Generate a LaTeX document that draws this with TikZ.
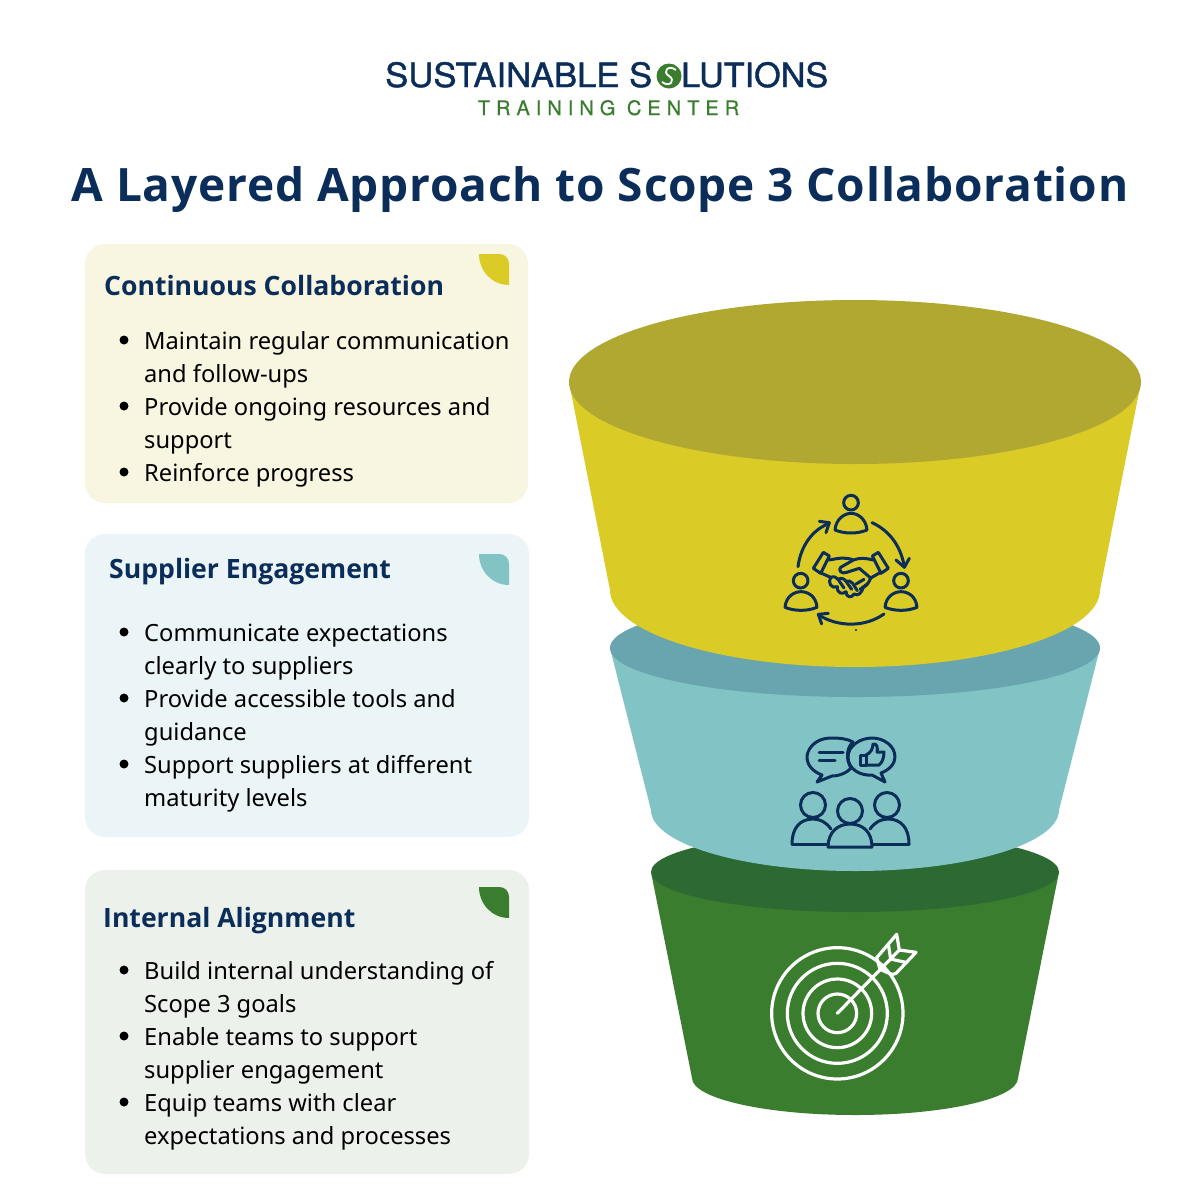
\documentclass[tikz,border=0pt]{standalone}
\usepackage{graphicx}
\usepackage{fontspec}
\setmainfont{Noto Sans}
\newfontfamily\heavyf{Open Sans}
\newfontfamily\titlef{Open Sans}[LetterSpace=1.8]
\newfontfamily\logofont{TeX Gyre Heros}[FakeBold=1.2]
\newfontfamily\logospaced{TeX Gyre Heros}[LetterSpace=30,FakeBold=0.6]
\definecolor{navy}{HTML}{0B2D59}
\definecolor{lg}{HTML}{3A7D2E}
\definecolor{yel}{HTML}{DACB27}
\definecolor{yeld}{HTML}{B1A832}
\definecolor{tea}{HTML}{82C4C5}
\definecolor{tead}{HTML}{69A5AE}
\definecolor{gre}{HTML}{3A7D2E}
\definecolor{gred}{HTML}{2D6A33}
\definecolor{boxy}{HTML}{F8F6E0}
\definecolor{boxt}{HTML}{EBF5F7}
\definecolor{boxg}{HTML}{ECF1EB}
\tikzset{
 x=1pt,y=-1pt,
 panel/.style={rounded corners=20pt,draw=none},
 head/.style={anchor=base west,inner sep=0,text=navy,font=\fontsize{26.6}{27}\heavyf\bfseries},
 body/.style={anchor=base west,inner sep=0,text=black,font=\fontsize{23.7}{24}\selectfont},
 dot/.style={circle,fill=black,inner sep=0,minimum size=9pt},
 icon/.style={draw=navy,line width=3pt,line cap=round,line join=round,fill=none},
 wicon/.style={draw=white,line width=3.2pt,line cap=round,line join=round,fill=none},
 zoomed/.style={x=0.33333pt,y=-0.33333pt},
}
\newcommand{\leaf}[3]{\fill[#3] (#1,#2) -- (#1+20,#2) .. controls (#1+26,#2) and (#1+30,#2+4) .. (#1+30,#2+10) -- (#1+30,#2+31) .. controls (#1+13,#2+31) and (#1,#2+17) .. (#1,#2) -- cycle;}
\begin{document}
\begin{tikzpicture}
\useasboundingbox (0,0) rectangle (1200,1200);
\fill[white] (0,0) rectangle (1200,1200);
% logo
\node[anchor=base west,inner sep=0,text=navy] (logoa) at (385,87) {\resizebox{267pt}{25pt}{\logofont SUSTAINABLE S}};
\node[anchor=base west,inner sep=0,text=navy] (logod) at (681,87) {\resizebox{147pt}{25pt}{\logofont LUTIONS}};
\node[anchor=base,inner sep=0,text=lg] (logob) at (608.5,115) {\fontsize{20}{20}\logospaced TRAINING CENTER};
\node[circle,fill=lg,minimum size=25pt,inner sep=0] (logoc) at (669,76) {};
\draw[white,line width=1.8pt] (676,70) .. controls (668,64) and (662,72) .. (669,76) .. controls (676,80) and (670,88) .. (662,82);
% title
\node[anchor=base,inner sep=0,text=navy] (title) at (600,201) {\fontsize{46}{46}\titlef\bfseries A Layered Approach to Scope 3 Collaboration};
% panels
\fill[boxy,panel] (85,244) rectangle (528,503);
\fill[boxt,panel] (85,534) rectangle (529,837);
\fill[boxg,panel] (85,870) rectangle (529,1174);
\leaf{479}{254}{yel}
\leaf{479}{554}{tea}
\leaf{479}{887}{gre}
% panel 1
\node[head] (h1) at (104,295) {Continuous Collaboration};
\node[dot] (d1a) at (124,340) {};
\node[body] (t1a) at (144,349) {Maintain regular communication};
\node[body] (t1b) at (144,382) {and follow-ups};
\node[dot] (d1b) at (124,406) {};
\node[body] (t1c) at (144,415) {Provide ongoing resources and};
\node[body] (t1d) at (144,448) {support};
\node[dot] (d1c) at (124,472) {};
\node[body] (t1e) at (144,481) {Reinforce progress};
% panel 2
\node[head] (h2) at (109,578) {Supplier Engagement};
\node[dot] (d2a) at (124,632) {};
\node[body] (t2a) at (144,641) {Communicate expectations};
\node[body] (t2b) at (144,674) {clearly to suppliers};
\node[dot] (d2b) at (124,698) {};
\node[body] (t2c) at (144,707) {Provide accessible tools and};
\node[body] (t2d) at (144,740) {guidance};
\node[dot] (d2c) at (124,764) {};
\node[body] (t2e) at (144,773) {Support suppliers at different};
\node[body] (t2f) at (144,806) {maturity levels};
% panel 3
\node[head] (h3) at (103,927) {Internal Alignment};
\node[dot] (d3a) at (124,970) {};
\node[body] (t3a) at (144,979) {Build internal understanding of};
\node[body] (t3b) at (144,1012) {Scope 3 goals};
\node[dot] (d3b) at (124,1036) {};
\node[body] (t3c) at (144,1045) {Enable teams to support};
\node[body] (t3d) at (144,1078) {supplier engagement};
\node[dot] (d3c) at (124,1102) {};
\node[body] (t3e) at (144,1111) {Equip teams with clear};
\node[body] (t3f) at (144,1144) {expectations and processes};
% green layer
\fill[gre] (651,872) -- (692,1078) .. controls (692,1098.4) and (765,1115) .. (855,1115) .. controls (945,1115) and (1018,1098.4) .. (1018,1078) -- (1059,872) -- cycle;
\fill[gred] (855,872) ellipse[x radius=204,y radius=40];
% teal layer
\fill[tea] (610,648) -- (651,810) .. controls (651,843.7) and (742.3,871) .. (855,871) .. controls (967.7,871) and (1059,843.7) .. (1059,810) -- (1100,648) -- cycle;
\fill[tead] (855,648) ellipse[x radius=245,y radius=49];
% yellow layer
\fill[yel] (569,382) -- (610,590) .. controls (610,632.5) and (719.7,667) .. (855,667) .. controls (990.3,667) and (1100,632.5) .. (1100,590) -- (1141,382) -- cycle;
\fill[yeld] (855,382) ellipse[x radius=286,y radius=82];
% icon 1: people and handshake
\begin{scope}[shift={(770,480)},zoomed]
\draw[icon] (243,68) circle[radius=22];
\draw[icon] (195,150) .. controls (198,115) and (225,100) .. (243,100) .. controls (262,100) and (288,115) .. (291,150) .. controls (262,162) and (224,162) .. (195,150) -- cycle;
\draw[icon] (92,302) circle[radius=22];
\draw[icon] (45,382) .. controls (48,347) and (75,335) .. (93,335) .. controls (112,335) and (138,347) .. (141,382) .. controls (112,394) and (74,394) .. (45,382) -- cycle;
\draw[icon] (393,302) circle[radius=22];
\draw[icon] (345,382) .. controls (348,347) and (375,335) .. (393,335) .. controls (412,335) and (438,347) .. (441,382) .. controls (412,394) and (374,394) .. (345,382) -- cycle;
% arrows
\draw[icon] (84,260) .. controls (92,200) and (125,150) .. (178,130);
\draw[icon] (148,124) -- (178,128) -- (168,158);
\draw[icon] (306,128) .. controls (355,150) and (392,195) .. (403,260);
\draw[icon] (378,240) -- (403,262) -- (418,235);
\draw[icon] (342,402) .. controls (285,442) and (205,442) .. (146,405);
\draw[icon] (175,400) -- (145,403) -- (155,432);
% handshake
\draw[icon] (160,217) -- (178,228) -- (152,280) -- (130,265) -- cycle;
\draw[icon] (325,217) -- (307,228) -- (333,280) -- (355,265) -- cycle;
\draw[icon] (178,240) .. controls (205,235) and (225,230) .. (250,240) .. controls (270,232) and (290,235) .. (310,240);
\draw[icon] (250,240) -- (212,262) .. controls (203,270) and (215,284) .. (230,277) -- (268,265) -- (302,294) .. controls (296,310) and (288,318) .. (280,322);
\draw[icon] (330,278) -- (302,294);
\draw[icon] (155,280) -- (182,292) .. controls (172,308) and (185,328) .. (202,320) .. controls (200,340) and (218,345) .. (228,335) .. controls (228,352) and (245,356) .. (252,342) .. controls (265,350) and (275,338) .. (280,322);
\draw[icon] (182,292) .. controls (192,288) and (200,292) .. (204,298) -- (222,324);
\draw[icon] (204,298) .. controls (214,292) and (222,296) .. (228,304) -- (245,328);
\draw[icon] (228,304) .. controls (236,300) and (242,304) .. (248,310) -- (262,332);
\draw[icon] (258,312) -- (282,298) (270,328) -- (292,312);
\fill[navy] (258,450) circle[radius=3.5];
\end{scope}
% icon 2: speech + people
\begin{scope}
\draw[icon] (832,738) .. controls (812,738) and (807,752) .. (807,757) .. controls (807,766) and (814,772) .. (822,775) -- (817,782) -- (832,776) .. controls (840,776) and (848,772) .. (851,768) .. controls (846,760) and (846,748) .. (853,742) .. controls (848,739) and (840,738) .. (832,738) -- cycle;
\draw[icon] (872,738) .. controls (860,738) and (848,746) .. (848,757) .. controls (848,769) and (860,776) .. (872,775) -- (885,782) -- (881,773) .. controls (889,770) and (895,764) .. (895,757) .. controls (895,746) and (884,738) .. (872,738) -- cycle;
\draw[icon] (819,752) -- (843,752) (819,760) -- (835,760);
\draw[icon] (860,755) -- (866,755) -- (866,765) -- (860,765) -- cycle;
\draw[icon] (866,755) .. controls (871,753) and (873,748) .. (873,744) .. controls (877,743) and (878,748) .. (877,752) -- (884,752) .. controls (884,758) and (882,763) .. (879,765) -- (866,765);
\draw[icon] (813,805) circle[radius=12.5];
\draw[icon] (887,805) circle[radius=12.5];
\draw[icon] (850,811) circle[radius=12.5];
\draw[icon] (792,844) .. controls (792,828) and (800,819) .. (813,819) .. controls (820,819) and (826,822) .. (831,829);
\draw[icon] (792,844) -- (828,844);
\draw[icon] (909,844) .. controls (909,828) and (901,819) .. (888,819) .. controls (881,819) and (875,822) .. (870,829);
\draw[icon] (909,844) -- (873,844);
\draw[icon] (828,847) .. controls (828,832) and (838,824) .. (850,824) .. controls (863,824) and (872,832) .. (872,847) -- cycle;
\end{scope}
% icon 3: target
\begin{scope}[shift={(760,925)},zoomed]
\draw[wicon] (232,265) circle[radius=197];
\draw[wicon] (232,265) circle[radius=150];
\draw[wicon] (232,265) circle[radius=103];
\draw[wicon] (232,265) circle[radius=58];
\draw[wicon] (232,265) -- (418,75);
\draw[wicon] (350,98) -- (410,28) -- (418,75) -- (468,82) -- (408,145) .. controls (400,150) and (395,148) .. (390,146) -- (360,133) -- cycle;
\draw[wicon] (385,58) -- (392,102) -- (437,112);
\end{scope}
\end{tikzpicture}
\end{document}
